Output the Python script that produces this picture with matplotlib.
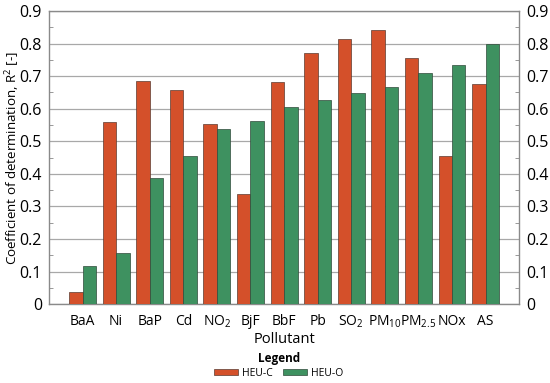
import matplotlib.pyplot as plt
import numpy as np

plt.rcParams['font.family'] = ['Open Sans', 'DejaVu Sans']
plt.rcParams['mathtext.fontset'] = 'custom'
plt.rcParams['mathtext.rm'] = 'Open Sans'
plt.rcParams['mathtext.it'] = 'Open Sans'

pollutants = ['BaA', 'Ni', 'BaP', 'Cd', r'NO$_2$', 'BjF', 'BbF', 'Pb',
              r'SO$_2$', r'PM$_{10}$', r'PM$_{2.5}$', 'NOx', 'AS']
heu_c = [0.036, 0.560, 0.684, 0.657, 0.553, 0.338, 0.683, 0.771,
         0.813, 0.841, 0.757, 0.456, 0.677]
heu_o = [0.117, 0.156, 0.388, 0.454, 0.539, 0.563, 0.605, 0.626,
         0.647, 0.668, 0.709, 0.733, 0.800]

cor_c = '#d4502a'
cor_o = '#3e9160'

fig = plt.figure(figsize=(5.5, 3.83), dpi=100)
ax = fig.add_axes([0.089, 0.206, 0.855, 0.765])

x = np.arange(len(pollutants))
w = 0.4
ax.bar(x - w / 2, heu_c, w, color=cor_c, edgecolor='#5a3a30', linewidth=0.5, label='HEU-C', zorder=3)
ax.bar(x + w / 2, heu_o, w, color=cor_o, edgecolor='#2f4a3a', linewidth=0.5, label='HEU-O', zorder=3)

ax.set_xlim(-1, len(pollutants))
ax.set_ylim(0, 0.9)
ax.set_xticks(x)
ax.set_xticklabels(pollutants, fontsize=10)
ax.tick_params(axis='x', length=0, pad=7)

yt = np.arange(0, 0.91, 0.1)
ax.set_yticks(yt)
ax.set_yticklabels([f'{v:g}' for v in yt])
ax.set_yticks(np.arange(0.05, 0.9, 0.1), minor=True)
ax.tick_params(axis='y', which='major', length=0, labelsize=11.5, pad=5,
               right=True, labelright=True)
ax.tick_params(axis='y', which='minor', direction='in', length=3, color='#888888',
               right=True)
ax.grid(axis='y', color='#a8a8a8', linewidth=0.9, zorder=0)

for s in ax.spines.values():
    s.set_color('#8a8a8a')
    s.set_linewidth(1.0)

ax.set_ylabel('Coefficient of determination, R$^2$ [-]', fontsize=9.6)
ax.yaxis.set_label_coords(-0.058, 0.5)
ax.set_xlabel('Pollutant', fontsize=10.5)
ax.xaxis.set_label_coords(0.5, -0.095)

leg = fig.legend(loc='upper center', bbox_to_anchor=(0.507, 0.096), ncol=2,
                 frameon=False, fontsize=7.5, title='Legend',
                 title_fontproperties={'weight': 'bold', 'size': 8.5},
                 handlelength=2.3, handleheight=0.6, columnspacing=1.0,
                 handletextpad=0.4, borderpad=0.1, labelspacing=0.2)

fig.savefig('out.png', dpi=100)
